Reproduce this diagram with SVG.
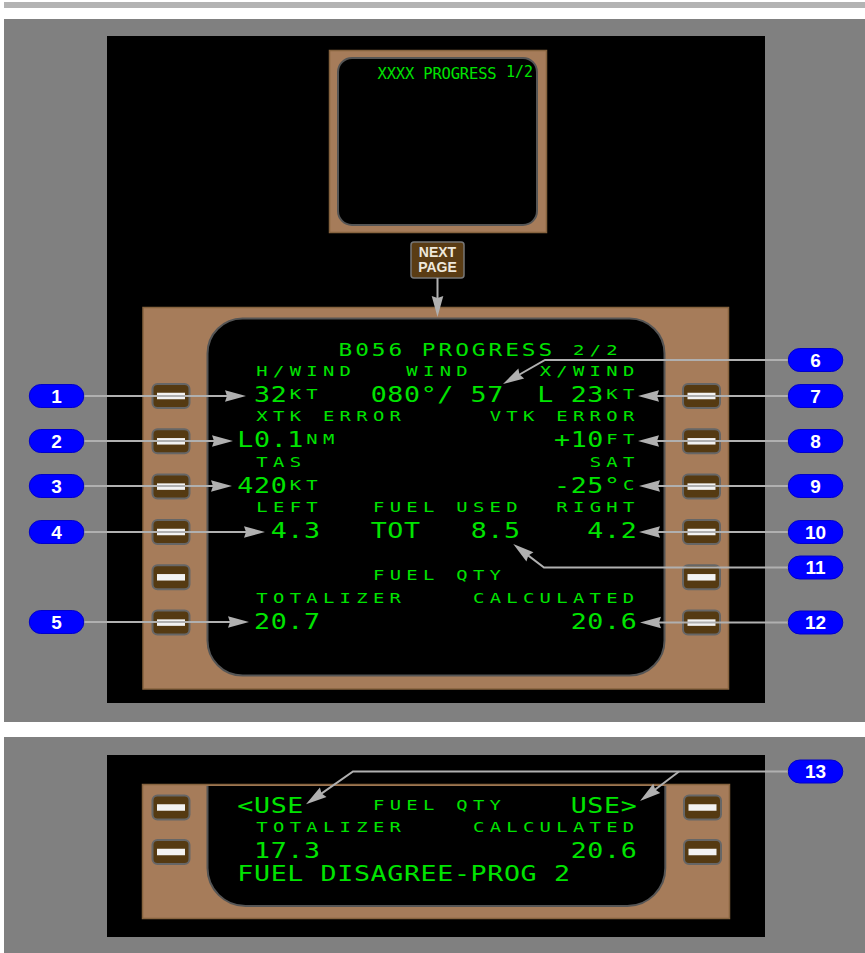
<svg xmlns="http://www.w3.org/2000/svg" width="865" height="953" viewBox="0 0 865 953">
<defs>
<style>
.bg{fill:#808080}
.blk{fill:#000}
.bezel{fill:#a67c5a;stroke:#86633f;stroke-width:1.5}
.scr{fill:#000;stroke:#555;stroke-width:2}
.key{fill:#553a12;stroke:#666;stroke-width:2}
.bar{fill:#f2f2f2}
.badge{fill:#0000ff;stroke:#0000c8;stroke-width:1}
.bt{font-family:"Liberation Sans",Arial,sans-serif;font-weight:bold;font-size:19px;fill:#fff;text-anchor:middle}
.g{font-family:"DejaVu Sans Mono",monospace;fill:#00e400}
.L{font-size:20.5px;letter-spacing:0.48px}
.S{font-size:14.5px;letter-spacing:4.09px}
.T{font-size:17.5px;letter-spacing:2.29px}
.con{fill:none;stroke:#b0b0b0;stroke-width:2;marker-end:url(#ah)}
.btn{fill:#5a3c14;stroke:#777;stroke-width:1.5}
.btt{font-family:"Liberation Sans",Arial,sans-serif;font-weight:bold;font-size:14px;fill:#eee8dc;text-anchor:middle}
</style>
<marker id="ah" markerUnits="userSpaceOnUse" viewBox="-12 -7 23 14" refX="0" refY="0" markerWidth="23" markerHeight="14" orient="auto">
<path d="M10,0 L-11,-5.8 L-9,0 L-11,5.8 Z" fill="#b0b0b0"/>
</marker>
</defs>

<rect x="4" y="2" width="861" height="6" fill="#b3b3b3"/>
<rect class="bg" x="4" y="19" width="861" height="703"/>
<rect class="bg" x="4" y="737" width="861" height="216"/>
<rect class="blk" x="107" y="36" width="658" height="667"/>
<rect class="blk" x="107" y="755" width="658" height="182"/>

<g id="page1-display">
<rect class="bezel" x="329.5" y="50.5" width="217" height="182"/>
<rect class="scr" x="338" y="58" width="199" height="167" rx="14"/>
<text class="g" x="377.5" y="79.3" font-size="15.5" letter-spacing="-0.18">XXXX PROGRESS</text>
<text class="g" x="506" y="77.3" font-size="15">1/2</text>
</g>

<g id="next-page-key">
<rect class="btn" x="411" y="242" width="53" height="36" rx="3"/>
<text class="btt" x="437.5" y="257.3">NEXT</text>
<text class="btt" x="437.5" y="272.3">PAGE</text>
</g>

<g id="page2-display">
<rect class="bezel" x="143" y="307.5" width="585.5" height="381.5"/>
<rect class="scr" x="207.5" y="318.5" width="457" height="357" rx="35"/>
<g class="g">
<text class="T" transform="translate(338.5,356) scale(1.3,1)">B056 PROGRESS</text>
<text class="S" transform="translate(573,354.5) scale(1.3,1)">2/2</text>
<text class="S" transform="translate(256.33,376) scale(1.3,1)">H/WIND</text>
<text class="S" transform="translate(406.33,376) scale(1.3,1)">WIND</text>
<text class="S" transform="translate(539.66,376) scale(1.3,1)">X/WIND</text>
<text class="L" transform="translate(253.98,402) scale(1.3,1)">32</text>
<text class="S" transform="translate(289.66,399) scale(1.3,1)">KT</text>
<text class="L" transform="translate(370.64,402) scale(1.3,1)">080°/ 57</text>
<text class="L" transform="translate(537.31,402) scale(1.3,1)">L 23</text>
<text class="S" transform="translate(606.33,399) scale(1.3,1)">KT</text>
<text class="S" transform="translate(256.33,421.45) scale(1.3,1)">XTK ERROR</text>
<text class="S" transform="translate(489.66,421.45) scale(1.3,1)">VTK ERROR</text>
<text class="L" transform="translate(237.31,447.45) scale(1.3,1)">L0.1</text>
<text class="S" transform="translate(306.33,444.45) scale(1.3,1)">NM</text>
<text class="L" transform="translate(553.98,447.45) scale(1.3,1)">+10</text>
<text class="S" transform="translate(606.33,444.45) scale(1.3,1)">FT</text>
<text class="S" transform="translate(256.33,466.9) scale(1.3,1)">TAS</text>
<text class="S" transform="translate(589.66,466.9) scale(1.3,1)">SAT</text>
<text class="L" transform="translate(237.31,492.9) scale(1.3,1)">420</text>
<text class="S" transform="translate(289.66,489.9) scale(1.3,1)">KT</text>
<text class="L" transform="translate(553.98,492.9) scale(1.3,1)">-25°</text>
<text class="S" transform="translate(622.99,489.9) scale(1.3,1)">C</text>
<text class="S" transform="translate(256.33,512.35) scale(1.3,1)">LEFT</text>
<text class="S" transform="translate(372.99,512.35) scale(1.3,1)">FUEL USED</text>
<text class="S" transform="translate(556.33,512.35) scale(1.3,1)">RIGHT</text>
<text class="L" transform="translate(270.64,538.35) scale(1.3,1)">4.3</text>
<text class="L" transform="translate(370.64,538.35) scale(1.3,1)">TOT</text>
<text class="L" transform="translate(470.64,538.35) scale(1.3,1)">8.5</text>
<text class="L" transform="translate(587.31,538.35) scale(1.3,1)">4.2</text>
<text class="S" transform="translate(372.99,580) scale(1.3,1)">FUEL QTY</text>
<text class="S" transform="translate(256.33,603.25) scale(1.3,1)">TOTALIZER</text>
<text class="S" transform="translate(472.99,603.25) scale(1.3,1)">CALCULATED</text>
<text class="L" transform="translate(253.98,629.25) scale(1.3,1)">20.7</text>
<text class="L" transform="translate(570.64,629.25) scale(1.3,1)">20.6</text>
</g>
</g>

<g id="page2-keys">
<g id="lsk1"><rect class="key" x="152.5" y="384" width="37" height="24" rx="5"/><rect class="bar" x="157" y="392.75" width="28" height="6.5"/></g>
<g id="lsk2"><rect class="key" x="152.5" y="429.3" width="37" height="24" rx="5"/><rect class="bar" x="157" y="438.05" width="28" height="6.5"/></g>
<g id="lsk3"><rect class="key" x="152.5" y="474.6" width="37" height="24" rx="5"/><rect class="bar" x="157" y="483.35" width="28" height="6.5"/></g>
<g id="lsk4"><rect class="key" x="152.5" y="520" width="37" height="24" rx="5"/><rect class="bar" x="157" y="528.75" width="28" height="6.5"/></g>
<g id="lsk5"><rect class="key" x="152.5" y="565.3" width="37" height="24" rx="5"/><rect class="bar" x="157" y="574.05" width="28" height="6.5"/></g>
<g id="lsk6"><rect class="key" x="152.5" y="610.6" width="37" height="24" rx="5"/><rect class="bar" x="157" y="619.35" width="28" height="6.5"/></g>
<g id="rsk1"><rect class="key" x="683" y="384" width="37" height="24" rx="5"/><rect class="bar" x="687.5" y="392.75" width="28" height="6.5"/></g>
<g id="rsk2"><rect class="key" x="683" y="429.3" width="37" height="24" rx="5"/><rect class="bar" x="687.5" y="438.05" width="28" height="6.5"/></g>
<g id="rsk3"><rect class="key" x="683" y="474.6" width="37" height="24" rx="5"/><rect class="bar" x="687.5" y="483.35" width="28" height="6.5"/></g>
<g id="rsk4"><rect class="key" x="683" y="520" width="37" height="24" rx="5"/><rect class="bar" x="687.5" y="528.75" width="28" height="6.5"/></g>
<g id="rsk5"><rect class="key" x="683" y="565.3" width="37" height="24" rx="5"/><rect class="bar" x="687.5" y="574.05" width="28" height="6.5"/></g>
<g id="rsk6"><rect class="key" x="683" y="610.6" width="37" height="24" rx="5"/><rect class="bar" x="687.5" y="619.35" width="28" height="6.5"/></g>
</g>

<g id="message-display">
<rect class="bezel" x="142.5" y="784.5" width="587" height="134"/>
<path d="M207.5,786 V868 A38,38 0 0 0 245.5,906 H627.3 A38,38 0 0 0 665.3,868 V786 Z" fill="#000"/>
<path d="M207.5,786 V868 A38,38 0 0 0 245.5,906 H627.3 A38,38 0 0 0 665.3,868 V786" fill="none" stroke="#555" stroke-width="2"/>
<g class="g">
<text class="L" transform="translate(237.31,812.7) scale(1.3,1)">&lt;USE</text>
<text class="S" transform="translate(372.99,809.5) scale(1.3,1)">FUEL QTY</text>
<text class="L" transform="translate(570.64,812.7) scale(1.3,1)">USE&gt;</text>
<text class="S" transform="translate(256.33,832) scale(1.3,1)">TOTALIZER</text>
<text class="S" transform="translate(472.99,832) scale(1.3,1)">CALCULATED</text>
<text class="L" transform="translate(253.98,857.5) scale(1.3,1)">17.3</text>
<text class="L" transform="translate(570.64,857.5) scale(1.3,1)">20.6</text>
<text class="L" transform="translate(237.31,880.7) scale(1.3,1)">FUEL DISAGREE-PROG 2</text>
</g>
<g id="msg-lsk1"><rect class="key" x="152.5" y="795.5" width="37" height="24" rx="5"/><rect class="bar" x="157" y="804.25" width="28" height="6.5"/></g>
<g id="msg-lsk2"><rect class="key" x="152.5" y="840" width="37" height="24" rx="5"/><rect class="bar" x="157" y="848.75" width="28" height="6.5"/></g>
<g id="msg-rsk1"><rect class="key" x="684" y="795.5" width="37" height="24" rx="5"/><rect class="bar" x="688.5" y="804.25" width="28" height="6.5"/></g>
<g id="msg-rsk2"><rect class="key" x="684" y="840" width="37" height="24" rx="5"/><rect class="bar" x="688.5" y="848.75" width="28" height="6.5"/></g>
</g>

<g id="connectors">
<path class="con" d="M437.5,278 V307"/>
<path class="con" d="M83.8,396 H236"/>
<path class="con" d="M83.8,441 H223"/>
<path class="con" d="M83.8,486 H222"/>
<path class="con" d="M83.8,532 H255"/>
<path class="con" d="M83.8,622 H239"/>
<path class="con" d="M788.3,360 H545 L511.7,379"/>
<path class="con" d="M788.3,396 H648"/>
<path class="con" d="M788.3,441 H648"/>
<path class="con" d="M788.3,486 H649"/>
<path class="con" d="M788.3,532 H649"/>
<path class="con" d="M788.3,567.5 H544 L521.2,550.1"/>
<path class="con" d="M788.3,622.5 H650"/>
<path class="con" d="M788.3,771.5 H353 L314.2,798.6"/>
<path class="con" d="M679,771.5 L648,795"/>
</g>

<g id="badge1"><rect class="badge" x="29.3" y="384.5" width="54.5" height="23" rx="11.5"/><text class="bt" x="56.5" y="402.8">1</text></g>
<g id="badge2"><rect class="badge" x="29.3" y="429.5" width="54.5" height="23" rx="11.5"/><text class="bt" x="56.5" y="447.8">2</text></g>
<g id="badge3"><rect class="badge" x="29.3" y="474.5" width="54.5" height="23" rx="11.5"/><text class="bt" x="56.5" y="492.8">3</text></g>
<g id="badge4"><rect class="badge" x="29.3" y="520.5" width="54.5" height="23" rx="11.5"/><text class="bt" x="56.5" y="538.8">4</text></g>
<g id="badge5"><rect class="badge" x="29.3" y="610.5" width="54.5" height="23" rx="11.5"/><text class="bt" x="56.5" y="628.8">5</text></g>
<g id="badge6"><rect class="badge" x="788.3" y="348.5" width="54.5" height="23" rx="11.5"/><text class="bt" x="815.5" y="366.8">6</text></g>
<g id="badge7"><rect class="badge" x="788.3" y="384.5" width="54.5" height="23" rx="11.5"/><text class="bt" x="815.5" y="402.8">7</text></g>
<g id="badge8"><rect class="badge" x="788.3" y="429.5" width="54.5" height="23" rx="11.5"/><text class="bt" x="815.5" y="447.8">8</text></g>
<g id="badge9"><rect class="badge" x="788.3" y="474.5" width="54.5" height="23" rx="11.5"/><text class="bt" x="815.5" y="492.8">9</text></g>
<g id="badge10"><rect class="badge" x="788.3" y="520.5" width="54.5" height="23" rx="11.5"/><text class="bt" x="815.5" y="538.8">10</text></g>
<g id="badge11"><rect class="badge" x="788.3" y="556" width="54.5" height="23" rx="11.5"/><text class="bt" x="815.5" y="574.3">11</text></g>
<g id="badge12"><rect class="badge" x="788.3" y="611" width="54.5" height="23" rx="11.5"/><text class="bt" x="815.5" y="629.3">12</text></g>
<g id="badge13"><rect class="badge" x="788.3" y="760" width="54.5" height="23" rx="11.5"/><text class="bt" x="815.5" y="778.3">13</text></g>
</svg>
